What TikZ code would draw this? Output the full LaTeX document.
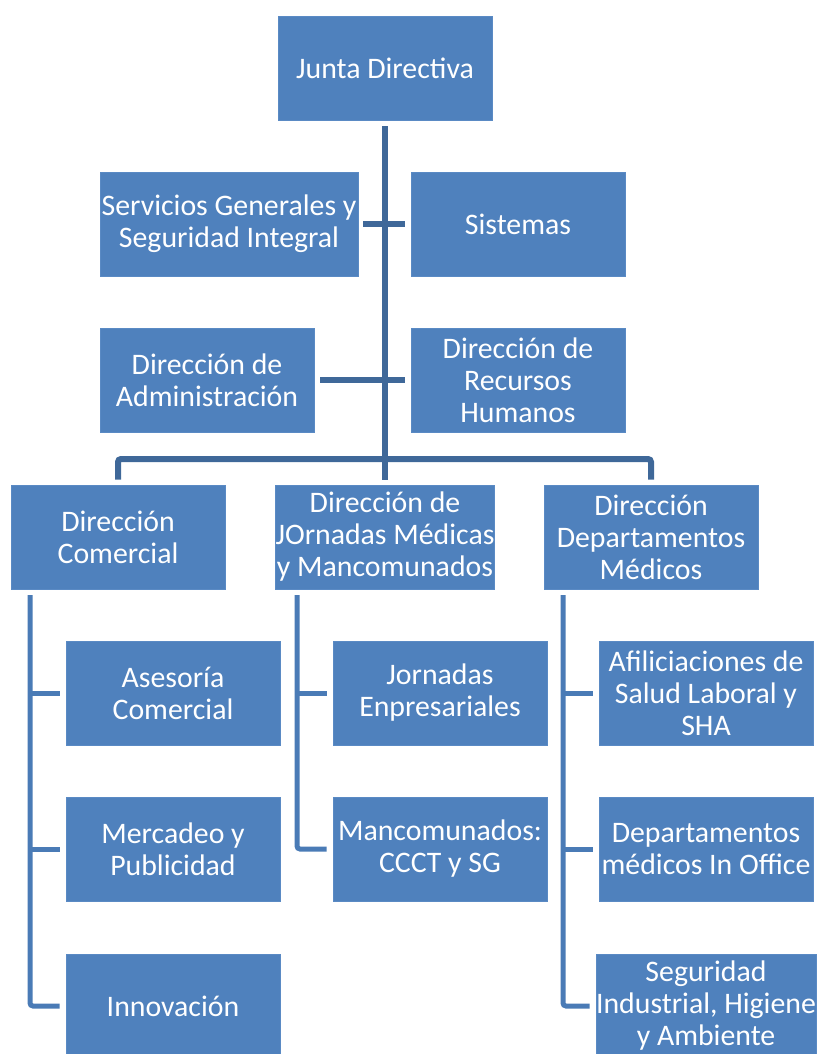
\documentclass[tikz,border=0pt]{standalone}
\usepackage{fontspec}
\setmainfont{Carlito}
\usetikzlibrary{calc}
\definecolor{boxfill}{HTML}{4F81BD}
\definecolor{boxline}{HTML}{5A8AC4}
\definecolor{trunkc}{HTML}{3F6899}
\definecolor{childc}{HTML}{4A7BB6}
\begin{document}
\begin{tikzpicture}[x=1pt,y=-1pt,
  box/.style={draw=boxline, line width=0.8pt, fill=boxfill, text=white, align=center,
    font=\fontsize{29.8}{32}\selectfont, minimum width=214pt, minimum height=104pt, inner sep=0pt},
  widebox/.style={box, minimum width=258pt},
  trunk/.style={draw=trunkc, line width=6pt},
  child/.style={draw=childc, line width=5pt}]
\useasboundingbox (0,0) rectangle (817,1054);
% boxes
\node[box] (junta) at (385,68) {Junta Directiva};
\node[widebox] (serv) at (229,224) {Servicios Generales y\\Seguridad Integral};
\node[box] (sis) at (518,224) {Sistemas};
\node[box] (admin) at (207,380) {Dirección de\\Administración};
\node[box] (rh) at (518,380) {Dirección de\\Recursos\\Humanos};
\node[box] (com) at (118,537) {Dirección\\Comercial};
\node[box] (jor) at (385,537) {Dirección de\\JOrnadas Médicas\\y Mancomunados};
\node[box] (dep) at (651,537) {Dirección\\Departamentos\\Médicos};
\node[box] (ase) at (173,693) {Asesoría\\Comercial};
\node[box] (jen) at (440,693) {Jornadas\\Enpresariales};
\node[box] (afi) at (706,693) {Afiliciaciones de\\Salud Laboral y\\SHA};
\node[box] (mer) at (173,849) {Mercadeo y\\Publicidad};
\node[box] (man) at (440,849) {Mancomunados:\\CCCT y SG};
\node[box] (dmi) at (706,849) {Departamentos\\médicos In Office};
\node[box] (inn) at (173,1006) {Innovación};
\node[box] (seg) at (706,1006) {Seguridad\\Industrial, Higiene\\y Ambiente};
% top connectors
\coordinate (bus) at (385,459);
\draw[trunk] ($(junta.south)+(0,6)$) -- ($(jor.north)+(0,-5)$);
\draw[trunk] ($(serv.east)+(5,0)$) -- ($(sis.west)+(-6,0)$);
\draw[trunk] ($(admin.east)+(6,0)$) -- ($(rh.west)+(-6,0)$);
\draw[trunk, rounded corners=3pt] ($(com.north)+(0,-5)$) |- (bus) -| ($(dep.north)+(0,-5)$);
% child spines
\coordinate (spL) at (30,595);
\coordinate (spM) at (297,595);
\coordinate (spR) at (563,595);
\draw[child, rounded corners=3pt] (spL) |- ($(inn.west)+(-6,0)$);
\draw[child] (spL |- ase.west) -- ($(ase.west)+(-6,0)$);
\draw[child] (spL |- mer.west) -- ($(mer.west)+(-6,0)$);
\draw[child, rounded corners=3pt] (spM) |- ($(man.west)+(-6,0)$);
\draw[child] (spM |- jen.west) -- ($(jen.west)+(-6,0)$);
\draw[child, rounded corners=3pt] (spR) |- ($(seg.west)+(-6,0)$);
\draw[child] (spR |- afi.west) -- ($(afi.west)+(-6,0)$);
\draw[child] (spR |- dmi.west) -- ($(dmi.west)+(-6,0)$);
\end{tikzpicture}
\end{document}
